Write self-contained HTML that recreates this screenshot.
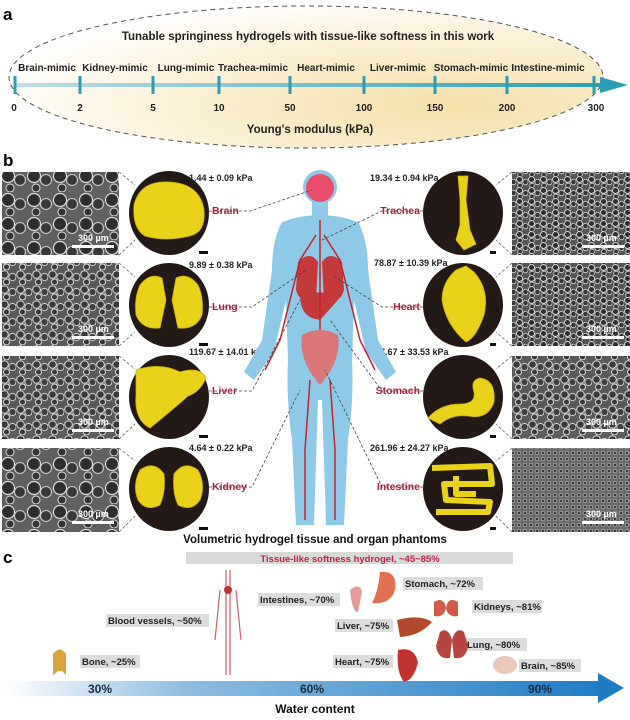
<!DOCTYPE html>
<html><head><meta charset="utf-8"><style>
html,body{margin:0;padding:0;background:#fff;}
svg{display:block;font-family:"Liberation Sans",Arial,sans-serif;}
.b{font-weight:bold}
</style></head><body>
<svg width="630" height="720" viewBox="0 0 630 720" xmlns="http://www.w3.org/2000/svg">
<defs>
<radialGradient id="eg" cx="0.75" cy="0.7" r="0.8">
<stop offset="0" stop-color="#f3dfa8"/><stop offset="0.6" stop-color="#fbf1d8"/><stop offset="1" stop-color="#ffffff"/>
</radialGradient>
<linearGradient id="ax" x1="0" x2="1"><stop offset="0" stop-color="#bfe0e8"/><stop offset="1" stop-color="#2a9db5"/></linearGradient>
<linearGradient id="wc" x1="0" x2="1"><stop offset="0" stop-color="#ffffff"/><stop offset="0.3" stop-color="#8fbde0"/><stop offset="1" stop-color="#1f7cc4"/></linearGradient>
<pattern id="sem" width="16" height="15" patternUnits="userSpaceOnUse">
<rect width="16" height="15" fill="#5a5a5a"/>
<circle cx="4.5" cy="4.5" r="3.8" fill="#3a3a3a" stroke="#dedede" stroke-width="1"/>
<circle cx="12.5" cy="7" r="3.6" fill="#404040" stroke="#cfcfcf" stroke-width="1"/>
<circle cx="6.5" cy="12" r="3" fill="#383838" stroke="#e2e2e2" stroke-width="0.9"/>
</pattern>
<pattern id="sem2" width="12" height="11" patternUnits="userSpaceOnUse">
<rect width="12" height="11" fill="#555"/>
<circle cx="3.5" cy="3.5" r="3" fill="#2e2e2e" stroke="#dadada" stroke-width="0.9"/>
<circle cx="9.5" cy="6" r="2.7" fill="#333" stroke="#ccc" stroke-width="0.9"/>
<circle cx="4" cy="9.5" r="2.3" fill="#303030" stroke="#d6d6d6" stroke-width="0.8"/>
</pattern>
<pattern id="sem3" width="26" height="24" patternUnits="userSpaceOnUse">
<rect width="26" height="24" fill="#606060"/>
<circle cx="8" cy="8" r="6.5" fill="#2e2e2e" stroke="#dcdcdc" stroke-width="1.2"/>
<circle cx="20" cy="12" r="5.5" fill="#383838" stroke="#cccccc" stroke-width="1.1"/>
<circle cx="10" cy="20" r="4" fill="#353535" stroke="#d8d8d8" stroke-width="1"/>
</pattern>
<pattern id="sem4" width="6" height="6" patternUnits="userSpaceOnUse">
<rect width="6" height="6" fill="#6a6a6a"/><circle cx="3" cy="3" r="1.8" fill="#3a3a3a" stroke="#c8c8c8" stroke-width="0.6"/>
</pattern>
</defs>

<!-- Panel a -->
<text x="3" y="20" font-size="17" class="b">a</text>
<ellipse cx="306" cy="77" rx="297" ry="71" fill="url(#eg)" stroke="#555" stroke-width="1" stroke-dasharray="5,4"/>
<text x="308" y="40" font-size="11.5" class="b" text-anchor="middle" fill="#222">Tunable springiness hydrogels with tissue-like softness in this work</text>
<rect x="14" y="83" width="590" height="4" fill="url(#ax)"/>
<polygon points="600,77 628,85 600,93" fill="#2a9db5"/>
<g stroke="#2a9db5" stroke-width="3">
<line x1="15" y1="76" x2="15" y2="94"/><line x1="80" y1="76" x2="80" y2="94"/><line x1="153" y1="76" x2="153" y2="94"/><line x1="219" y1="76" x2="219" y2="94"/><line x1="290" y1="76" x2="290" y2="94"/><line x1="364" y1="76" x2="364" y2="94"/><line x1="435" y1="76" x2="435" y2="94"/><line x1="507" y1="76" x2="507" y2="94"/><line x1="594" y1="76" x2="594" y2="94"/>
</g>
<g font-size="10" class="b" fill="#222" text-anchor="middle">
<text x="47" y="71">Brain-mimic</text><text x="115" y="71">Kidney-mimic</text><text x="186" y="71">Lung-mimic</text><text x="253" y="71">Trachea-mimic</text><text x="326" y="71">Heart-mimic</text><text x="398" y="71">Liver-mimic</text><text x="471" y="71">Stomach-mimic</text><text x="548" y="71">Intestine-mimic</text>
<text x="14" y="111">0</text><text x="80" y="111">2</text><text x="153" y="111">5</text><text x="219" y="111">10</text><text x="290" y="111">50</text><text x="364" y="111">100</text><text x="435" y="111">150</text><text x="507" y="111">200</text><text x="596" y="111">300</text>
</g>
<text x="310" y="133" font-size="11.5" class="b" text-anchor="middle" fill="#222">Young's modulus (kPa)</text>

<!-- Panel b -->
<text x="3" y="166" font-size="17" class="b">b</text>
<rect x="2" y="172" width="117" height="83" fill="url(#sem3)"/>
<rect x="2" y="263" width="117" height="83" fill="url(#sem)"/>
<rect x="2" y="356" width="117" height="83" fill="url(#sem)"/>
<rect x="2" y="448" width="117" height="84" fill="url(#sem3)"/>
<rect x="512" y="172" width="118" height="83" fill="url(#sem2)"/>
<rect x="512" y="263" width="118" height="83" fill="url(#sem2)"/>
<rect x="512" y="356" width="118" height="83" fill="url(#sem)"/>
<rect x="512" y="448" width="118" height="84" fill="url(#sem4)"/>
<g fill="#fff" font-size="9" class="b">
<rect x="72" y="245" width="42" height="3"/><text x="78" y="241">300 µm</text>
<rect x="72" y="336" width="42" height="3"/><text x="78" y="332">300 µm</text>
<rect x="72" y="429" width="42" height="3"/><text x="78" y="425">300 µm</text>
<rect x="72" y="521" width="42" height="3"/><text x="78" y="517">300 µm</text>
<rect x="582" y="245" width="42" height="3"/><text x="586" y="241">300 µm</text>
<rect x="582" y="336" width="42" height="3"/><text x="586" y="332">300 µm</text>
<rect x="582" y="429" width="42" height="3"/><text x="586" y="425">300 µm</text>
<rect x="582" y="521" width="42" height="3"/><text x="586" y="517">300 µm</text>
</g>
<g stroke="#666" stroke-width="0.8" stroke-dasharray="3,2" fill="none">
<line x1="119" y1="172" x2="135" y2="185"/><line x1="119" y1="255" x2="135" y2="240"/>
<line x1="119" y1="263" x2="135" y2="277"/><line x1="119" y1="346" x2="135" y2="332"/>
<line x1="119" y1="356" x2="135" y2="369"/><line x1="119" y1="439" x2="135" y2="424"/>
<line x1="119" y1="448" x2="135" y2="461"/><line x1="119" y1="532" x2="135" y2="516"/>
<line x1="512" y1="172" x2="496" y2="185"/><line x1="512" y1="255" x2="496" y2="240"/>
<line x1="512" y1="263" x2="496" y2="277"/><line x1="512" y1="346" x2="496" y2="332"/>
<line x1="512" y1="356" x2="496" y2="369"/><line x1="512" y1="439" x2="496" y2="424"/>
<line x1="512" y1="448" x2="496" y2="461"/><line x1="512" y1="532" x2="496" y2="516"/>
</g>
<g fill="#231a17">
<ellipse cx="169" cy="213" rx="40" ry="42"/><ellipse cx="169" cy="305" rx="40" ry="42"/><ellipse cx="169" cy="397" rx="40" ry="42"/><ellipse cx="169" cy="489" rx="40" ry="42"/>
<ellipse cx="463" cy="213" rx="40" ry="42"/><ellipse cx="463" cy="305" rx="40" ry="42"/><ellipse cx="463" cy="397" rx="40" ry="42"/><ellipse cx="463" cy="489" rx="40" ry="42"/>
</g>
<g fill="#e8d21a" stroke="#c9b000" stroke-width="0.8">
<path d="M134,205 Q140,180 170,182 Q200,184 204,210 Q206,232 190,236 Q165,242 145,236 Q132,228 134,205Z"/>
<path d="M140,285 Q150,272 162,278 L166,300 L160,328 Q142,330 136,315 Q134,298 140,285Z"/>
<path d="M198,285 Q188,272 176,278 L172,300 L178,328 Q196,330 202,315 Q204,298 198,285Z"/>
<path d="M136,370 Q160,362 180,372 Q200,366 206,378 Q200,392 188,396 Q170,412 150,428 Q134,420 136,395Z"/>
<path d="M140,470 Q154,460 164,474 Q166,492 160,505 Q146,512 138,500 Q132,485 140,470Z"/>
<path d="M198,470 Q184,460 174,474 Q172,492 178,505 Q192,512 200,500 Q206,485 198,470Z"/>
<path d="M458,176 L468,176 L466,200 L470,230 L476,244 L464,250 L456,240 L460,225 L460,200Z"/>
<path d="M456,270 L466,266 L474,272 Q490,290 484,315 Q476,338 466,342 Q446,325 442,300 Q442,282 456,270Z"/>
<path d="M480,378 Q496,380 494,402 Q488,420 468,416 Q452,414 440,424 L428,418 Q440,404 460,404 Q476,404 474,392 Q470,380 480,378Z"/>
</g>
<g fill="none" stroke="#e8d21a" stroke-width="6" stroke-linejoin="round">
<path d="M432,468 L490,466 L492,484 L444,484 L446,500 L490,502 L488,512 L436,512"/>
<path d="M456,476 L456,494 L476,494"/>
</g>
<g fill="#111">
<rect x="199" y="251" width="9" height="3"/><rect x="199" y="343" width="9" height="3"/><rect x="199" y="435" width="9" height="3"/><rect x="199" y="527" width="9" height="3"/>
<rect x="490" y="251" width="6" height="3"/><rect x="490" y="343" width="6" height="3"/><rect x="490" y="435" width="6" height="3"/><rect x="490" y="527" width="6" height="3"/>
</g>
<g font-size="9" class="b" fill="#222">
<text x="189" y="181">1.44 ± 0.09 kPa</text><text x="189" y="268">9.89 ± 0.38 kPa</text><text x="189" y="355">119.67 ± 14.01 kPa</text><text x="189" y="451">4.64 ± 0.22 kPa</text>
<text x="370" y="181">19.34 ± 0.94 kPa</text><text x="374" y="266">78.87 ± 10.39 kPa</text><text x="370" y="355">177.67 ± 33.53 kPa</text><text x="370" y="451">261.96 ± 24.27 kPa</text>
</g>
<g font-size="10.5" class="b" fill="#b01e3c">
<text x="212" y="214">Brain</text><text x="212" y="310">Lung</text><text x="212" y="394">Liver</text><text x="212" y="490">Kidney</text>
<text x="420" y="214" text-anchor="end">Trachea</text><text x="420" y="310" text-anchor="end">Heart</text><text x="420" y="394" text-anchor="end">Stomach</text><text x="420" y="490" text-anchor="end">Intestine</text>
</g>
<g fill="#8ec9e8">
<circle cx="320" cy="187" r="17"/>
<rect x="312" y="200" width="16" height="18"/>
<path d="M282,222 Q320,208 358,222 Q368,240 368,270 L378,340 L396,372 L386,380 L366,352 L354,300 L352,360 Q354,400 348,440 L344,525 L326,525 L322,400 L318,400 L314,525 L296,525 L292,440 Q286,400 288,360 L286,300 L274,352 L254,380 L244,372 L262,340 L272,270 Q272,240 282,222Z"/>
</g>
<circle cx="320" cy="188" r="14" fill="#e84d6a"/>
<g fill="#c43a3a">
<path d="M298,262 Q310,250 318,262 L316,300 Q300,305 296,290Z"/>
<path d="M342,262 Q330,250 322,262 L324,300 Q340,305 344,290Z"/>
<path d="M300,295 Q330,288 338,300 L320,320 Q300,318 300,295Z"/>
</g>
<path d="M302,335 Q320,325 338,335 Q342,360 320,385 Q298,360 302,335Z" fill="#d9777a"/>
<g stroke="#c0262b" stroke-width="1.5" fill="none">
<path d="M316,235 L300,260 L290,300 L280,340 L265,370"/><path d="M324,235 L340,260 L350,300 L360,340 L375,370"/>
<path d="M310,380 L305,450 L305,520"/><path d="M330,380 L335,450 L335,520"/><path d="M320,220 L320,330"/>
</g>
<g stroke="#444" stroke-width="0.8" stroke-dasharray="3,2" fill="none">
<path d="M209,211 L250,211 L312,190"/><path d="M209,307 L252,307 L306,270"/><path d="M209,391 L252,391 L300,300"/><path d="M209,487 L252,487 L300,390"/>
<path d="M423,211 L382,211 L322,240"/><path d="M423,307 L382,307 L332,275"/><path d="M423,391 L382,391 L330,320"/><path d="M423,487 L382,487 L325,370"/>
</g>
<text x="315" y="543" font-size="11.5" class="b" text-anchor="middle" fill="#111">Volumetric hydrogel tissue and organ phantoms</text>

<!-- Panel c -->
<text x="3" y="563" font-size="17" class="b">c</text>
<rect x="186" y="552" width="327" height="12" fill="#d9d9d9"/>
<text x="350" y="562" font-size="9.5" class="b" text-anchor="middle" fill="#c42044">Tissue-like softness hydrogel, ~45~85%</text>
<rect x="5" y="681" width="600" height="15" fill="url(#wc)"/>
<polygon points="598,673 624,688 598,703" fill="#1f7cc4"/>
<g font-size="12" class="b" fill="#1a2a40" text-anchor="middle">
<text x="100" y="693">30%</text><text x="312" y="693">60%</text><text x="540" y="693">90%</text>
</g>
<text x="315" y="713" font-size="12" class="b" text-anchor="middle" fill="#111">Water content</text>
<g fill="#dcdcdc">
<rect x="80" y="655" width="60" height="13"/><rect x="106" y="614" width="103" height="13"/><rect x="258" y="593" width="82" height="13"/>
<rect x="403" y="577" width="80" height="13"/><rect x="472" y="600" width="70" height="13"/><rect x="335" y="619" width="58" height="13"/>
<rect x="465" y="638" width="62" height="13"/><rect x="333" y="655" width="60" height="13"/><rect x="519" y="659" width="62" height="13"/>
</g>
<g font-size="9.5" class="b" fill="#222">
<text x="82" y="665">Bone, ~25%</text><text x="108" y="624">Blood vessels, ~50%</text><text x="260" y="603">Intestines, ~70%</text>
<text x="405" y="587">Stomach, ~72%</text><text x="474" y="610">Kidneys, ~81%</text><text x="337" y="629">Liver, ~75%</text>
<text x="467" y="648">Lung, ~80%</text><text x="335" y="665">Heart, ~75%</text><text x="521" y="669">Brain, ~85%</text>
</g>
<path d="M53,654 Q60,645 66,654 L66,675 L62,671 L58,671 L53,675Z" fill="#d9a340"/>
<g stroke="#d06060" stroke-width="1.2" fill="none"><path d="M226,570 L226,675"/><path d="M230,570 L230,675"/><path d="M220,590 L215,640"/><path d="M236,590 L241,640"/></g>
<circle cx="228" cy="590" r="4" fill="#c0302f"/>
<path d="M350,590 Q360,582 362,592 L358,612 Q352,612 350,590Z" fill="#e89a9a"/>
<path d="M380,572 Q398,570 395,590 Q390,605 372,603 Q378,592 380,572Z" fill="#e07050"/>
<path d="M434,602 Q444,596 446,608 Q444,618 434,616Z M458,602 Q448,596 446,608 Q448,618 458,616Z" fill="#d05a4a"/>
<path d="M397,620 Q420,614 432,622 Q420,636 400,637Z" fill="#b34a30"/>
<path d="M440,632 Q448,626 452,640 L450,658 Q438,660 436,646Z M464,632 Q456,626 452,640 L454,658 Q466,660 468,646Z" fill="#b54540"/>
<path d="M398,650 Q414,646 418,662 Q414,680 404,682 Q396,672 398,650Z" fill="#c0312f"/>
<ellipse cx="505" cy="665" rx="12" ry="9" fill="#e8c8b8"/>
</svg>
</body></html>
